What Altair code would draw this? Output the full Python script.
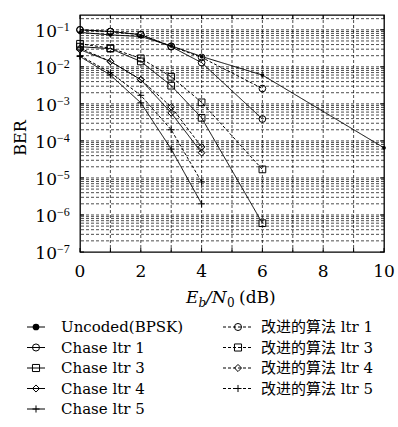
import altair as alt
import pandas as pd

W, H = 304, 237
YMIN, YMAX = 1e-7, 10 ** -0.6
SERIF = "DejaVu Serif"

# ---------------- data ----------------
x_uncoded = [0, 1, 2, 3, 4, 6, 10]
ber_uncoded = [0.085, 0.073, 0.066, 0.037, 0.019, 6.0e-3, 6.5e-5]

x_ltr13 = [0, 1, 2, 3, 4, 6]
ber_chase1 = [0.10, 0.09, 0.074, 0.035, 0.013, 3.9e-4]
ber_impr1 = [0.10, 0.09, 0.074, 0.036, 0.018, 2.6e-3]
ber_chase3 = [0.035, 0.031, 0.014, 3.1e-3, 4.2e-4, 6.0e-7]
ber_impr3 = [0.042, 0.032, 0.017, 5.4e-3, 1.1e-3, 1.7e-5]

x_ltr45 = [0, 1, 2, 3, 4]
ber_chase4 = [0.029, 0.014, 4.5e-3, 5.7e-4, 4.8e-5]
ber_impr4 = [0.032, 0.014, 4.5e-3, 8.3e-4, 6.9e-5]
ber_chase5 = [0.019, 6.0e-3, 1.07e-3, 6.0e-5, 2.0e-6]
ber_impr5 = [0.020, 7.0e-3, 1.7e-3, 2.0e-4, 7.8e-6]

names_left = ["Uncoded(BPSK)", "Chase ltr 1", "Chase ltr 3", "Chase ltr 4", "Chase ltr 5"]
names_right = ["改进的算法 ltr 1", "改进的算法 ltr 3", "改进的算法 ltr 4", "改进的算法 ltr 5"]

x_grid = list(range(0, 11))
x_labels = [0, 2, 4, 6, 8, 10]
y_exps = [-7, -6, -5, -4, -3, -2, -1]

PLUS = "M-1,0L1,0M0,-1L0,1"
shape_of = {
    "Uncoded(BPSK)": "circle",
    "Chase ltr 1": "circle", "改进的算法 ltr 1": "circle",
    "Chase ltr 3": "square", "改进的算法 ltr 3": "square",
    "Chase ltr 4": "diamond", "改进的算法 ltr 4": "diamond",
    "Chase ltr 5": PLUS, "改进的算法 ltr 5": PLUS,
}

series = [
    ("Uncoded(BPSK)", x_uncoded, ber_uncoded, "solid"),
    ("Chase ltr 1", x_ltr13, ber_chase1, "solid"),
    ("Chase ltr 3", x_ltr13, ber_chase3, "solid"),
    ("Chase ltr 4", x_ltr45, ber_chase4, "solid"),
    ("Chase ltr 5", x_ltr45, ber_chase5, "solid"),
    ("改进的算法 ltr 1", x_ltr13, ber_impr1, "dashed"),
    ("改进的算法 ltr 3", x_ltr13, ber_impr3, "dashed"),
    ("改进的算法 ltr 4", x_ltr45, ber_impr4, "dashed"),
    ("改进的算法 ltr 5", x_ltr45, ber_impr5, "dashed"),
]
rows = []
for name, xs_, ys_, style in series:
    for xv, yv in zip(xs_, ys_):
        rows.append({"series": name, "snr": xv, "ber": yv, "style": style})
df = pd.DataFrame(rows)

all_names = [s[0] for s in series]
shape_scale = alt.Scale(domain=all_names, range=[shape_of[n] for n in all_names])
dash_scale = alt.Scale(domain=["solid", "dashed"], range=[[1, 0], [3, 2]])

xs = alt.Scale(domain=[0, 10], nice=False, zero=False)
ys = alt.Scale(type="log", domain=[YMIN, YMAX], nice=False)

# grid values
y_grid = []
for e in range(-7, 0):
    for k in range(1, 10):
        v = k * 10 ** e
        if v <= YMAX * 0.999 and v > YMIN * 1.001:
            y_grid.append(v)

gx = alt.Chart(pd.DataFrame({"g": x_grid[1:-1]})).mark_rule(
    color="black", strokeWidth=0.7, strokeDash=[3, 2]
).encode(x=alt.X("g:Q", scale=xs, axis=None))
gy = alt.Chart(pd.DataFrame({"g": y_grid})).mark_rule(
    color="black", strokeWidth=0.7, strokeDash=[3, 2]
).encode(y=alt.Y("g:Q", scale=ys, axis=None))

# ticks
tick_df = pd.DataFrame({"g": x_grid})
tb = alt.Chart(tick_df).mark_rule(color="black", strokeWidth=1).encode(
    x=alt.X("g:Q", scale=xs, axis=None), y=alt.value(H), y2=alt.value(H - 4))
tt = alt.Chart(tick_df).mark_rule(color="black", strokeWidth=1).encode(
    x=alt.X("g:Q", scale=xs, axis=None), y=alt.value(0), y2=alt.value(4))
dec_df = pd.DataFrame({"v": [10.0 ** e for e in y_exps]})
tl = alt.Chart(dec_df).mark_rule(color="black", strokeWidth=1).encode(
    y=alt.Y("v:Q", scale=ys, axis=None), x=alt.value(0), x2=alt.value(4))
tr = alt.Chart(dec_df).mark_rule(color="black", strokeWidth=1).encode(
    y=alt.Y("v:Q", scale=ys, axis=None), x=alt.value(W), x2=alt.value(W - 4))

lines = alt.Chart(df).mark_line(color="black", strokeWidth=1).encode(
    x=alt.X("snr:Q", scale=xs, axis=None),
    y=alt.Y("ber:Q", scale=ys, axis=None),
    detail="series:N",
    strokeDash=alt.StrokeDash("style:N", scale=dash_scale, legend=None),
)
pts = alt.Chart(df).transform_filter(alt.datum.series != "Uncoded(BPSK)").mark_point(
    color="black", filled=False, strokeWidth=1, size=45, opacity=1
).encode(
    x=alt.X("snr:Q", scale=xs, axis=None),
    y=alt.Y("ber:Q", scale=ys, axis=None),
    shape=alt.Shape("series:N", scale=shape_scale, legend=None),
)
pts_unc = alt.Chart(df).transform_filter(alt.datum.series == "Uncoded(BPSK)").mark_point(
    color="black", filled=True, size=14, shape="circle", opacity=1
).encode(
    x=alt.X("snr:Q", scale=xs, axis=None),
    y=alt.Y("ber:Q", scale=ys, axis=None),
)

# axis labels
xl = alt.Chart(pd.DataFrame({"v": x_labels})).mark_text(
    font=SERIF, fontSize=17, baseline="alphabetic", align="center", color="black"
).encode(x=alt.X("v:Q", scale=xs, axis=None), y=alt.value(H + 25), text="v:Q")

yl_df = pd.DataFrame({"v": [10.0 ** e for e in y_exps], "e": ["\u2212" + str(-e) for e in y_exps]})
yl10 = alt.Chart(yl_df).mark_text(
    font=SERIF, fontSize=17, baseline="alphabetic", align="right", dy=7, color="black"
).encode(y=alt.Y("v:Q", scale=ys, axis=None), x=alt.value(-23), text=alt.value("10"))
ylex = alt.Chart(yl_df).mark_text(
    font="Liberation Serif", fontSize=12, baseline="alphabetic", align="left", dy=1, color="black"
).encode(y=alt.Y("v:Q", scale=ys, axis=None), x=alt.value(-23), text="e:N")

ytitle = alt.Chart(pd.DataFrame({"t": ["BER"]})).mark_text(
    font=SERIF, fontSize=16, angle=270, baseline="middle", align="center", color="black"
).encode(x=alt.value(-59), y=alt.value(123), text="t:N")

# x title pieces: E_b / N_0 (dB)
title_parts = pd.DataFrame({
    "t": ["E", "b", "/N", "0", "(dB)"],
    "px": [106, 118.5, 126, 147, 159],
    "py": [288, 292, 288, 292, 288],
    "fs": [17, 12, 17, 12, 17],
    "st": ["italic", "italic", "italic", "normal", "normal"],
})
xt_layers = []
for _, r in title_parts.iterrows():
    xt_layers.append(
        alt.Chart(pd.DataFrame({"t": [r["t"]]})).mark_text(
            font=SERIF, fontSize=int(r["fs"]), fontStyle=r["st"], align="left",
            baseline="alphabetic", color="black"
        ).encode(x=alt.value(float(r["px"])), y=alt.value(float(r["py"])), text="t:N")
    )

main = alt.layer(gx, gy, tb, tt, tl, tr, lines, pts, pts_unc, xl, yl10, ylex, ytitle, *xt_layers)

# ---------------- legend ----------------
leg_left = pd.DataFrame({"series": names_left, "row": list(range(len(names_left))),
                         "style": ["solid"] * len(names_left)})
leg_right = pd.DataFrame({"series": names_right, "row": list(range(len(names_right))),
                          "style": ["dashed"] * len(names_right)})
row_scale = alt.Scale(domain=[0, 4], range=[312, 394])


def legend_col(d, x1, x2, xm, xt):
    ln = alt.Chart(d).mark_rule(color="black", strokeWidth=1).encode(
        y=alt.Y("row:Q", scale=row_scale, axis=None), x=alt.value(x1), x2=alt.value(x2),
        strokeDash=alt.StrokeDash("style:N", scale=dash_scale, legend=None))
    pt = alt.Chart(d).transform_filter(alt.datum.series != "Uncoded(BPSK)").mark_point(
        color="black", filled=False, strokeWidth=1, size=50, opacity=1).encode(
        y=alt.Y("row:Q", scale=row_scale, axis=None), x=alt.value(xm),
        shape=alt.Shape("series:N", scale=shape_scale, legend=None))
    pu = alt.Chart(d).transform_filter(alt.datum.series == "Uncoded(BPSK)").mark_point(
        color="black", filled=True, size=45, shape="circle", opacity=1).encode(
        y=alt.Y("row:Q", scale=row_scale, axis=None), x=alt.value(xm))
    tx = alt.Chart(d).mark_text(
        font=SERIF + ", Noto Sans CJK SC", fontSize=15, align="left", baseline="middle",
        color="black").encode(
        y=alt.Y("row:Q", scale=row_scale, axis=None), x=alt.value(xt), text="series:N")
    return [ln, pt, pu, tx]


legend = alt.layer(*legend_col(leg_left, -53, -35, -44, -19),
                   *legend_col(leg_right, 143, 173, 158, 181))

chart = alt.layer(main, legend).resolve_scale(
    y="independent", shape="independent", strokeDash="independent"
).properties(
    width=W, height=H,
    autosize=alt.AutoSizeParams(type="none"),
    padding={"left": 80, "top": 15, "right": 14, "bottom": 175},
    background="white",
).configure_view(stroke="black", strokeWidth=1.3)

chart.save("out.html", embed_options={"renderer": "svg", "actions": False})
